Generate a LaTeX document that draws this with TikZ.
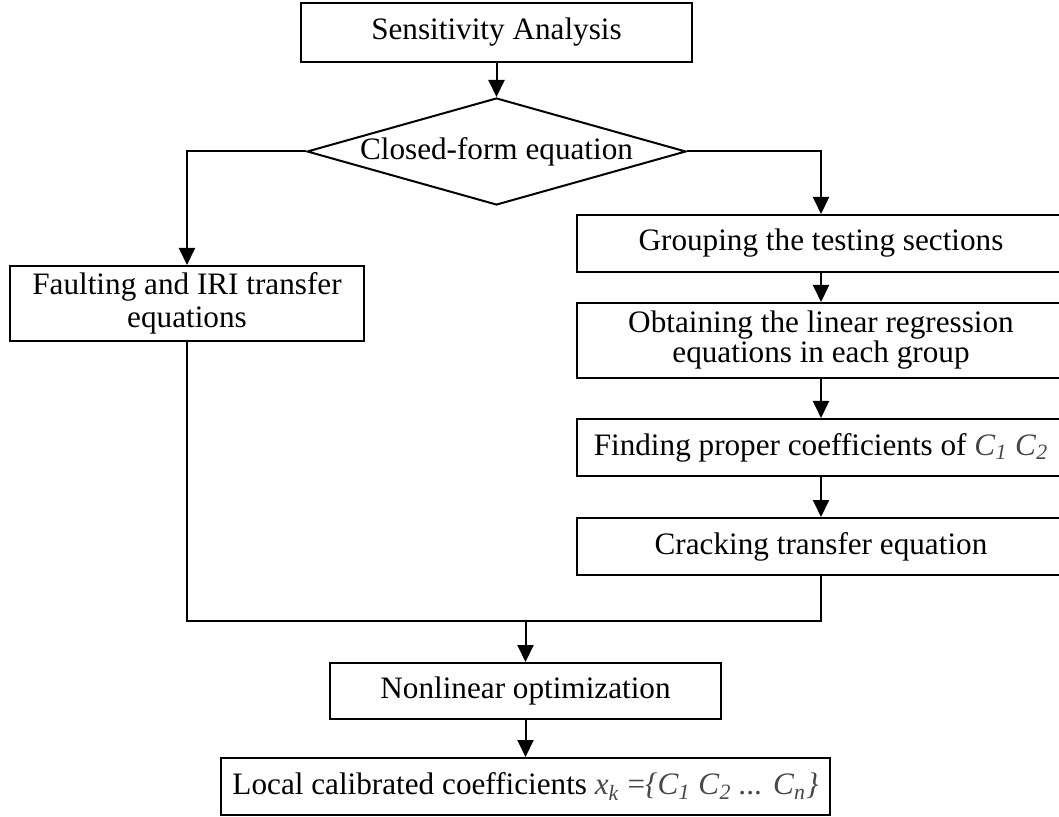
\documentclass[tikz,border=0pt]{standalone}
\usepackage{fontspec}
\setmainfont{Liberation Serif}
\usetikzlibrary{arrows.meta,shapes.geometric}
\newcommand{\gi}[1]{\textit{#1}}
\newcommand{\gsub}[1]{\textsubscript{\textit{#1}}}
\begin{document}
\begin{tikzpicture}[x=0.5pt,y=-0.5pt,
  box/.style={draw, line width=1pt, inner sep=0pt, align=center, font=\fontsize{15.6}{17.5}\selectfont},
  dia/.style={draw, diamond, aspect=3.54, line width=1pt, inner sep=0pt, font=\fontsize{15.6}{17.5}\selectfont},
  arr/.style={line width=1pt, -{Triangle[length=8.5pt,width=8pt]}},
  ln/.style={line width=1pt}]
\path[use as bounding box] (0,0) rectangle (1059,817);
\clip (0,0) rectangle (1059,817);
\node[box, minimum width=195.5pt, minimum height=29.5pt] (sa) at (496.5,32.5) {Sensitivity Analysis};
\node[dia, minimum width=189.5pt, minimum height=53.5pt] (cf) at (496.5,151.5) {Closed-form equation};
\node[box, minimum width=177pt, minimum height=37.5pt, font=\fontsize{15.6}{16.5}\selectfont] (fa) at (187,303.5) {Faulting and IRI transfer\\equations};
\node[box, minimum width=244pt, minimum height=28.5pt] (gr) at (821,243.5) {Grouping the testing sections};
\node[box, minimum width=244pt, minimum height=37.5pt, font=\fontsize{15.6}{15}\selectfont] (ob) at (821,340.5) {Obtaining the linear regression\\equations in each group};
\node[box, minimum width=244pt, minimum height=28.5pt] (fi) at (821,447.5) {Finding proper coefficients of {\color{black!72}\gi{C}\gsub{1} \gi{C}\gsub{2}}};
\node[box, minimum width=244pt, minimum height=28.5pt] (cr) at (821,546.5) {Cracking transfer equation};
\node[box, minimum width=195.5pt, minimum height=28pt] (nl) at (525.5,691) {Nonlinear optimization};
\node[box, minimum width=304.5pt, minimum height=28.5pt] (lc) at (525.5,786.5) {Local calibrated coefficients {\color{black!72}\gi{x}\gsub{k} =\gi{\{C}\gsub{1} \gi{C}\gsub{2} \gi{... C}\gsub{n}\gi{\}}}};
\coordinate (mc) at (525.5,621);
\draw[arr] (sa) -- (cf);
\draw[arr] (cf.west) -| (fa.north);
\draw[arr] (cf.east) -| (gr.north);
\draw[arr] (gr) -- (ob);
\draw[arr] (ob) -- (fi);
\draw[arr] (fi) -- (cr);
\draw[ln] (fa.south) -- (fa.south |- mc) -- (cr.south |- mc) -- (cr.south);
\draw[arr] (mc) -- (nl);
\draw[arr] (nl) -- (lc);
\end{tikzpicture}
\end{document}
